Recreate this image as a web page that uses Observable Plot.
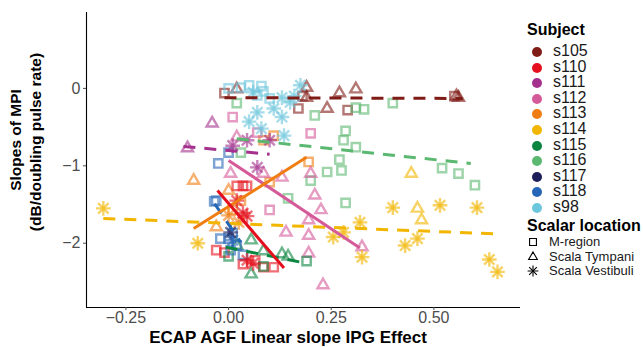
<!DOCTYPE html>
<html><head><meta charset="utf-8">
<script src="https://cdn.jsdelivr.net/npm/d3@7"></script>
<script src="https://cdn.jsdelivr.net/npm/@observablehq/plot@0.6"></script>
<style>
body{margin:0;background:#fff;font-family:"Liberation Sans",Arial,sans-serif;}
#wrap{position:relative;width:643px;height:347px;overflow:hidden;}
.t{position:absolute;white-space:nowrap;color:#000;}
</style></head><body><div id="wrap"></div>
<script>
// Subjects and colours
const subjects = ["s105","s110","s111","s112","s113","s114","s115","s116","s117","s118","s98"];
const subjectColors = ["#801c17","#e5101d","#a4318d","#d55a99","#f07d12","#f2b600","#0b8641","#5bb870","#1d1f5b","#2666b6","#6cc6dc"];
const locations = ["M-region","Scala Tympani","Scala Vestibuli"];
const xTicks = [-0.25, 0, 0.25, 0.5];
const yTicks = [-2, -1, 0];

// Points: subject, location (M = M-region, T = Scala Tympani, V = Scala Vestibuli), x, y
const ptSubject = [
 "s105","s105","s105","s105","s105","s105","s105","s105","s105","s105","s105","s105","s105",
 "s98","s98","s98","s98","s98","s98","s98","s98","s98","s98","s98","s98","s98","s98","s98","s98","s98","s98",
 "s116","s116","s116","s116","s116","s116","s116","s116","s116","s116","s116","s116","s116","s116","s116","s116","s116","s116",
 "s114","s114","s114","s114","s114","s114","s114","s114","s114","s114","s114","s114","s114","s114","s114","s114",
 "s113","s113","s113","s113","s113","s113","s113","s113","s113","s113","s113",
 "s110","s110","s110","s110","s110","s110","s110","s110","s110","s110","s110","s110","s110","s110",
 "s112","s112","s112","s112","s112","s112","s112","s112","s112","s112","s112","s112","s112","s112","s112","s112","s112",
 "s111","s111","s111","s111","s111","s111",
 "s115","s115","s115","s115","s115","s115","s115","s115","s115",
 "s118","s118","s118","s118","s118","s118","s118","s118","s118","s118","s118",
 "s117"
];
const ptLocation = [
 "M","T","M","M","T","T","T","T","M","T","M","T","T",
 "M","M","M","M","M","M","M","V","V","V","V","V","V","V","V","V","V","V",
 "M","M","M","M","M","M","M","M","M","M","M","M","M","M","M","M","M","M",
 "V","V","V","V","V","V","V","V","V","V","V","V","V","T","T","T",
 "T","T","T","M","M","M","M","M","V","V","M",
 "M","M","M","V","V","V","V","M","M","M","M","M","M","V",
 "T","M","T","T","T","T","T","T","T","T","T","T","T","M","M","M","T",
 "T","T","V","V","V","V",
 "T","T","T","T","T","M","M","T","M",
 "M","M","M","M","M","M","M","M","M","V","M",
 "V"
];
const ptX = [
 -0.01,0.02,0.17,0.18,0.19,0.19,0.24,0.27,0.29,0.31,0.55,0.555,0.56,
 0.00,0.03,0.05,0.08,0.07,0.10,0.085,0.05,0.06,0.07,0.13,0.13,0.16,0.175,0.135,0.11,0.15,0.08,
 0.02,0.03,0.21,0.285,0.28,0.31,0.27,0.275,0.24,0.33,0.40,0.31,0.52,0.56,0.60,0.285,0.20,0.145,
 -0.305,-0.075,0.40,0.32,0.28,0.255,0.325,0.43,0.46,0.515,0.605,0.635,0.655,0.445,0.46,0.47,
 -0.085,0.00,-0.03,0.085,0.11,0.195,0.10,0.01,0.00,0.025,0.03,
 0.02,0.035,0.045,0.035,0.045,0.045,0.06,-0.03,-0.01,0.065,0.085,0.11,0.035,0.02,
 0.005,0.01,0.02,0.13,0.20,0.21,0.225,0.195,0.195,0.14,0.325,0.195,0.23,0.10,0.20,0.07,0.085,
 -0.04,-0.10,0.07,0.01,0.045,0.10,
 0.055,0.085,0.13,0.145,0.055,0.19,0.085,0.02,0.00,
 -0.025,0.00,-0.03,-0.02,0.01,0.005,0.035,0.00,0.02,0.01,-0.035,
 0.005
];
const ptY = [
 -0.06,-0.01,-0.26,-0.10,0.01,-0.12,-0.26,-0.06,-0.28,-0.01,-0.10,-0.10,-0.12,
 0.00,0.01,0.04,0.03,-0.09,-0.13,-0.04,-0.43,-0.05,-0.31,-0.12,-0.37,-0.10,0.04,-0.61,-0.26,-0.18,-0.52,
 -0.19,-0.83,-0.35,-0.55,-0.67,-0.76,-0.92,-1.06,-1.08,-0.27,-0.19,-0.25,-1.03,-1.10,-1.25,-1.48,-1.19,-1.42,
 -1.55,-2.00,-1.54,-1.73,-1.86,-1.92,-2.18,-2.03,-1.94,-1.51,-1.54,-2.21,-2.37,-1.10,-1.55,-1.70,
 -1.19,-1.32,-1.79,-0.67,-0.61,-0.95,-1.21,-1.57,-1.64,-1.73,-1.45,
 -1.26,-1.26,-1.26,-1.61,-1.65,-2.22,-2.26,-2.09,-2.12,-2.22,-2.31,-2.31,-2.27,-1.45,
 -1.10,-0.37,-0.63,-1.15,-1.10,-1.38,-1.57,-1.70,-1.90,-1.86,-2.05,-2.13,-2.54,-1.57,-0.58,-0.57,-1.10,
 -0.45,-0.77,-1.02,-0.74,-0.67,-0.67,
 -1.96,-2.10,-2.14,-2.17,-2.40,-2.23,-2.30,-2.03,-2.17,
 -0.97,-0.83,-1.45,-1.94,-1.87,-2.09,-2.15,-1.94,-2.03,-1.96,-1.46,
 -1.86
];

// Fitted lines per subject
const fitSubject = ["s105","s116","s114","s111","s112","s113","s110","s115","s118"];
const fitX1 = [-0.01, 0.02, -0.305, -0.11, 0.00, -0.085, -0.027, -0.007, -0.034];
const fitY1 = [-0.12, -0.65, -1.68, -0.75, -0.93, -1.81, -1.32, -2.05, -1.49];
const fitX2 = [0.57, 0.59, 0.655, 0.10, 0.32, 0.19, 0.135, 0.19, 0.03];
const fitY2 = [-0.13, -0.97, -1.88, -0.85, -2.06, -0.89, -2.32, -2.26, -1.99];
const fitDashed = [true, true, true, true, false, false, false, true, true];

const locName = {M:"M-region", T:"Scala Tympani", V:"Scala Vestibuli"};
const pts = ptSubject.map((s,i)=>({subject:s, loc:locName[ptLocation[i]], x:ptX[i], y:ptY[i]}));
const shapePts = pts.filter(d=>d.loc!=="Scala Vestibuli");
const astPts = pts.filter(d=>d.loc==="Scala Vestibuli");
const fits = fitSubject.map((s,i)=>({subject:s, x1:fitX1[i], y1:fitY1[i], x2:fitX2[i], y2:fitY2[i], dashed:fitDashed[i]}));

const xDom = [-0.346, 0.711], yDom = [-2.83, 0.98];
const col = {domain:subjects, range:subjectColors};
const common = {x:"x", y:"y", stroke:"subject", strokeWidth:2.4, strokeOpacity:0.6, fill:"none"};

const chart = Plot.plot({
  width:525, height:347, marginLeft:86, marginTop:12, marginBottom:40, marginRight:5,
  style:{fontFamily:"Liberation Sans, Arial, sans-serif", background:"#fff"},
  x:{domain:xDom}, y:{domain:yDom},
  color:col,
  symbol:{domain:locations, range:["square2","triangle2","asterisk"]},
  marks:[
    Plot.dot(shapePts, {...common, symbol:"loc", r:5.3}),
    Plot.dot(astPts, {...common, symbol:"plus", r:4.8}),
    Plot.dot(astPts, {...common, symbol:"times", r:4.8}),
    Plot.link(fits.filter(d=>d.dashed), {x1:"x1", y1:"y1", x2:"x2", y2:"y2", stroke:"subject", strokeWidth:3, strokeDasharray:"12,9"}),
    Plot.link(fits.filter(d=>!d.dashed), {x1:"x1", y1:"y1", x2:"x2", y2:"y2", stroke:"subject", strokeWidth:3}),
    Plot.ruleX([xDom[0]], {stroke:"#000", strokeWidth:1.1}),
    Plot.ruleY([yDom[0]], {stroke:"#000", strokeWidth:1.1}),
    Plot.axisX({ticks:xTicks, tickFormat:d3.format(".2f"), tickSize:3, tickPadding:1, fontSize:16, color:"#4d4d4d", label:null}),
    Plot.axisY({ticks:yTicks, tickFormat:d3.format("d"), tickSize:3, tickPadding:3, fontSize:16, color:"#4d4d4d", label:null})
  ]
});
const wrap = document.getElementById("wrap");
chart.style.position="absolute"; chart.style.left="0"; chart.style.top="0";
wrap.appendChild(chart);

function addText(txt, css){ const d=document.createElement("div"); d.className="t"; d.textContent=txt; d.style.cssText+=css; wrap.appendChild(d); return d; }
addText("ECAP AGF Linear slope IPG Effect","left:288px;top:328px;transform:translateX(-50%);font-weight:bold;font-size:17px;line-height:19px;");
addText("Slopes of MPI","left:16px;top:140px;transform:translate(-50%,-50%) rotate(-90deg);font-weight:bold;font-size:15.5px;");
addText("(dB/doubling pulse rate)","left:36px;top:142px;transform:translate(-50%,-50%) rotate(-90deg);font-weight:bold;font-size:15.5px;");

// Legend
addText("Subject","left:527px;top:21px;font-weight:bold;font-size:16px;");
const ns="http://www.w3.org/2000/svg";
subjects.forEach((s,i)=>{
  const y = 52 + i*15.6;
  const sv=document.createElementNS(ns,"svg"); sv.setAttribute("width",14); sv.setAttribute("height",14);
  sv.style.cssText=`position:absolute;left:530px;top:${y-7}px;`;
  const c=document.createElementNS(ns,"circle"); c.setAttribute("cx",7); c.setAttribute("cy",7); c.setAttribute("r",5); c.setAttribute("fill",subjectColors[i]);
  sv.appendChild(c); wrap.appendChild(sv);
  addText(s,`left:553px;top:${y-10}px;font-size:16px;color:#1a1a1a;`);
});
addText("Scalar location","left:527px;top:217px;font-weight:bold;font-size:16px;");
locations.forEach((l,i)=>{
  const y = 242 + i*14.5;
  const sv=document.createElementNS(ns,"svg"); sv.setAttribute("width",14); sv.setAttribute("height",14);
  sv.style.cssText=`position:absolute;left:526px;top:${y-7}px;`;
  const g=document.createElementNS(ns,"g"); g.setAttribute("transform","translate(7,7)"); g.setAttribute("fill","none"); g.setAttribute("stroke","#000"); g.setAttribute("stroke-width","1.1");
  if(i===0){ const p=document.createElementNS(ns,"path"); p.setAttribute("d", d3.symbol(d3.symbolSquare2, 60)()); g.appendChild(p);}
  else if(i===1){ const p=document.createElementNS(ns,"path"); p.setAttribute("d", d3.symbol(d3.symbolTriangle2, 55)()); g.appendChild(p);}
  else { [d3.symbolPlus, d3.symbolTimes].forEach(k=>{const p=document.createElementNS(ns,"path"); p.setAttribute("d", d3.symbol(k, 40)()); g.appendChild(p);}); }
  sv.appendChild(g); wrap.appendChild(sv);
  addText(l,`left:549px;top:${y-8}px;font-size:13px;color:#1a1a1a;`);
});
</script></body></html>
